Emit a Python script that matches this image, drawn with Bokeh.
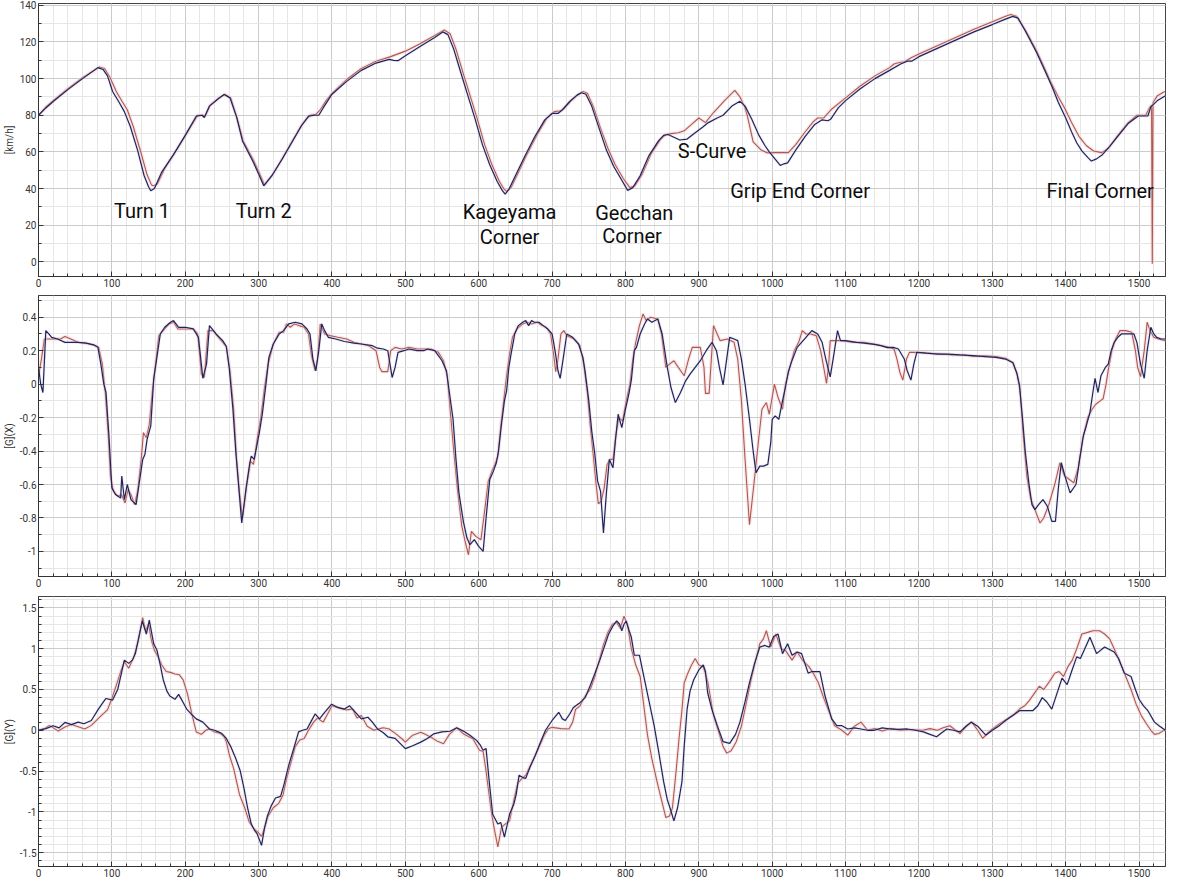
from bokeh.plotting import figure
from bokeh.layouts import column
from bokeh.models import Range1d, SingleIntervalTicker, CustomJSTickFormatter
from bokeh.core.properties import value
from bokeh.embed import file_html
from bokeh.resources import INLINE

# ---------------- data: distance [m] vs value ----------------
SPEED_NAVY = [(0,80),(10,84),(20,87.5),(40,94),(60,100),(81,106),(88,105),(94,101.5),(101,93),(110,87),(117,82),
 (125,74),(135,61),(144,47),(150,41),(153,38.8),(158,40),(168,49),(184,58.5),(200,69),(215,79.5),(223,80),(226,78.8),
 (233,85),(245,89),(253,91.3),(261,89.5),(270,79),(278,66),(292,55),(300,48),(307,41.5),(318,47),(332,56),(345,65),
 (358,74),(368,79.5),(376,80),(382,80),(388,84),(400,91.5),(420,98.5),(440,104.5),(460,108.5),(478,110.5),(484,110),
 (490,109.8),(500,112.5),(520,117.5),(540,122.5),(551,125.5),(558,124),(566,116),(575,104),(585,91),(595,78),(605,64),
 (615,53),(625,44),(632,39),(636,37),(641,39.5),(650,47),(662,57),(676,68),(690,77.5),(700,81),(708,81),(714,83),
 (724,87.5),(734,91),(740,92.3),(746,91.5),(754,85),(764,73),(774,61),(784,52),(795,44.5),(803,39),(810,40.5),(820,47),
 (832,58),(845,66),(852,69),(858,69.5),(866,68),(874,66.5),(884,67),(895,70.5),(905,73.5),(913,76),(925,78.5),(933,80),
 (945,85),(956,87.6),(963,85),(972,78),(982,69),(990,63.5),(996,60),(1004,56),(1011,52.6),(1016,53.5),(1021,54),
 (1032,61),(1045,68.5),(1058,75),(1068,77.5),(1076,77),(1080,78),(1090,84),(1100,88),(1120,94.5),(1140,100),
 (1160,104.5),(1175,108),(1184,109.5),(1190,109.5),(1200,112),(1225,116.5),(1250,121),(1275,125.5),(1300,129.5),
 (1318,132.5),(1328,134),(1335,133),(1345,126),(1360,114.5),(1372,104),(1381,96),(1390,87),(1400,78.5),(1408,71),
 (1415,65),(1422,60.6),(1430,57),(1435,55),(1442,56.2),(1450,58.5),(1460,63),(1472,69),(1485,75.5),(1499,79.6),
 (1512,79.6),(1516,84.6),(1525,88),(1536,90.7)]

SPEED_RED = [(0,80),(10,84.5),(20,88),(40,94.5),(60,100.5),(83,106.3),(90,105.5),(97,101),(106,93),(114,87.5),(121,83),
 (129,74),(139,60.5),(148,47.5),(154,42),(157,41.5),(162,42.5),(172,51),(188,61),(204,71.5),(217,80),(224,80),(227,79.5),
 (234,85.5),(246,89.5),(254,91.5),(262,89.5),(271,78),(279,66),(293,55.5),(301,48.5),(308,42),(319,47.5),(333,57),
 (346,66),(359,75),(370,80),(378,80.5),(384,83),(392,88),(400,92),(420,99.5),(440,105.5),(460,109.5),(480,112),
 (500,115),(520,119),(540,123.5),(553,126.5),(561,124.5),(569,116),(578,104),(588,91),(598,78),(608,64),(618,53),
 (628,44),(634,40),(638,38.5),(644,40.5),(653,48),(665,58),(679,69),(693,78.5),(703,82),(712,82.5),(716,83.5),
 (726,88),(736,91.5),(742,93),(748,92),(756,85),(766,73),(776,62),(786,53),(797,45.5),(806,40.5),(813,41.5),(823,48),
 (835,59),(848,67),(855,69.5),(862,70),(872,70.5),(880,71.5),(890,75),(900,78.5),(909,76),(920,81.5),(935,88),
 (949,93.6),(956,90),(962,85),(966,80),(974,65.5),(985,61),(993,59.5),(1004,59.6),(1022,59.6),(1032,64),(1045,71),
 (1056,76.5),(1062,78.5),(1070,78.5),(1080,83),(1100,89.5),(1120,96),(1140,101.5),(1160,106),(1166,108),(1172,108.7),
 (1180,109.2),(1190,111.5),(1200,113.5),(1225,118),(1250,122.5),(1275,127),(1300,131),(1318,134),(1325,135),(1333,134),
 (1345,126.5),(1360,115.5),(1372,105),(1381,97),(1390,90),(1399,83.6),(1408,76),(1418,68.5),(1428,63.5),(1438,60.5),
 (1449,59.6),(1458,62),(1470,68.5),(1484,75.5),(1497,80),(1509,80),(1514,84),(1517,85.5),(1518,-1),(1519,87),
 (1525,90.7),(1535,93)]

GX_NAVY = [(0,0.1),(3,0.0),(6,-0.05),(10,0.32),(14,0.3),(18,0.28),(26,0.27),(36,0.25),(45,0.25),(54,0.25),(65,0.245),
 (75,0.235),(81,0.22),(85,0.12),(89,0.0),(92,-0.05),(96,-0.31),(100,-0.62),(105,-0.66),(112,-0.68),(113.5,-0.55),
 (117,-0.69),(121,-0.6),(126,-0.69),(133,-0.72),(137,-0.6),(142,-0.45),(145,-0.42),(148,-0.33),(153,-0.25),(157,0.03),
 (161,0.15),(166,0.3),(172,0.34),(180,0.37),(184,0.38),(191,0.34),(200,0.34),(211,0.33),(218,0.28),(224,0.035),
 (229,0.12),(233,0.35),(242,0.3),(251,0.26),(256,0.225),(260,0.095),(265,-0.15),(269,-0.41),(273,-0.62),(277,-0.83),
 (283,-0.62),(288,-0.47),(290,-0.43),(294,-0.45),(301,-0.29),(305,-0.18),(310,0.0),(314,0.16),(320,0.24),(328,0.3),
 (334,0.32),(341,0.36),(350,0.37),(359,0.36),(366,0.33),(370,0.3),(374,0.15),(378,0.08),(382,0.2),(386,0.36),
 (390,0.32),(395,0.28),(405,0.27),(417,0.255),(430,0.245),(440,0.24),(455,0.23),(462,0.215),(470,0.21),(476,0.2),
 (482,0.04),(486,0.1),(490,0.19),(498,0.2),(505,0.21),(516,0.2),(525,0.2),(530,0.21),(540,0.2),(545,0.17),(550,0.14),
 (556,0.08),(560,-0.05),(565,-0.21),(569,-0.45),(573,-0.65),(579,-0.82),(584,-0.92),(588,-0.96),(594,-0.93),
 (600,-0.97),(606,-1.0),(610,-0.8),(615,-0.57),(620,-0.52),(624,-0.47),(627,-0.4),(631,-0.24),(635,-0.1),(638,-0.04),
 (641,0.1),(644,0.18),(647,0.25),(649,0.3),(654,0.35),(660,0.37),(664,0.38),(668,0.35),(672,0.38),(676,0.37),
 (682,0.37),(688,0.35),(694,0.33),(700,0.3),(704,0.2),(708,0.08),(711,0.035),(715,0.15),(720,0.3),(728,0.28),
 (736,0.24),(742,0.16),(745,0.075),(750,-0.1),(754,-0.28),(758,-0.41),(762,-0.58),(766,-0.64),(770,-0.89),(774,-0.65),
 (778,-0.45),(783,-0.5),(786,-0.35),(790,-0.18),(795,-0.26),(800,-0.15),(805,-0.05),(808,0.025),(812,0.2),(815,0.22),
 (820,0.3),(826,0.36),(830,0.39),(836,0.37),(844,0.39),(850,0.3),(857,0.1),(862,-0.02),(868,-0.11),(875,-0.05),
 (882,0.02),(888,0.06),(895,0.1),(902,0.14),(910,0.2),(918,0.25),(924,0.2),(928,0.1),(933,-0.005),(937,0.12),
 (942,0.28),(948,0.27),(953,0.26),(958,0.15),(963,0.0),(969,-0.21),(974,-0.4),(978,-0.53),(983,-0.49),(988,-0.49),
 (994,-0.48),(998,-0.35),(1000,-0.21),(1004,-0.19),(1009,-0.21),(1014,-0.1),(1018,-0.02),(1022,0.075),(1026,0.13),
 (1034,0.22),(1040,0.25),(1046,0.28),(1050,0.3),(1054,0.32),(1062,0.3),(1068,0.25),(1073,0.15),(1079,0.044),
 (1083,0.15),(1089,0.32),(1093,0.26),(1100,0.26),(1115,0.25),(1125,0.245),(1139,0.238),(1148,0.23),(1157,0.218),
 (1165,0.22),(1172,0.21),(1180,0.15),(1184,0.08),(1189,0.024),(1193,0.12),(1197,0.19),(1210,0.185),(1225,0.18),
 (1240,0.18),(1255,0.175),(1274,0.17),(1290,0.165),(1305,0.16),(1318,0.15),(1328,0.128),(1333,0.07),(1337,-0.006),
 (1341,-0.2),(1345,-0.41),(1350,-0.6),(1354,-0.72),(1358,-0.75),(1363,-0.72),(1369,-0.69),(1375,-0.73),(1381,-0.82),
 (1386,-0.82),(1390,-0.62),(1394,-0.47),(1399,-0.55),(1406,-0.65),(1414,-0.6),(1419,-0.45),(1424,-0.31),(1428,-0.25),
 (1433,-0.17),(1437,-0.05),(1440,0.035),(1444,-0.05),(1448,0.05),(1454,0.1),(1458,0.12),(1462,0.2),(1466,0.25),
 (1471,0.28),(1476,0.3),(1485,0.3),(1493,0.3),(1497,0.25),(1502,0.12),(1507,0.035),(1511,0.2),(1516,0.34),(1520,0.3),
 (1524,0.28),(1530,0.27),(1536,0.27)]

GX_RED = [(0,0.05),(4,0.15),(8,0.27),(14,0.27),(22,0.27),(30,0.27),(36,0.285),(44,0.27),(54,0.25),(65,0.245),(75,0.235),
 (82,0.22),(87,0.12),(91,-0.05),(95,-0.3),(98,-0.55),(102,-0.64),(108,-0.67),(113,-0.66),(118,-0.71),(122,-0.63),
 (126,-0.66),(131,-0.72),(135,-0.64),(140,-0.45),(143,-0.29),(147,-0.32),(151,-0.24),(155,-0.05),(159,0.1),(164,0.29),
 (172,0.33),(178,0.36),(184,0.37),(190,0.33),(200,0.33),(211,0.33),(217,0.3),(222,0.06),(226,0.04),(231,0.32),
 (238,0.32),(247,0.27),(256,0.225),(261,0.08),(266,-0.15),(270,-0.45),(274,-0.65),(278,-0.8),(284,-0.6),(289,-0.46),
 (293,-0.48),(299,-0.3),(303,-0.2),(308,-0.02),(313,0.12),(320,0.24),(328,0.31),(334,0.31),(338,0.36),(343,0.34),
 (349,0.36),(355,0.35),(362,0.34),(368,0.3),(372,0.17),(377,0.08),(380,0.14),(384,0.36),(390,0.3),(397,0.29),
 (408,0.28),(420,0.27),(430,0.25),(440,0.24),(450,0.23),(460,0.2),(465,0.1),(468,0.075),(476,0.075),(480,0.2),
 (486,0.22),(495,0.21),(505,0.22),(516,0.21),(525,0.21),(535,0.21),(545,0.19),(552,0.14),(557,0.05),(561,-0.15),
 (566,-0.4),(571,-0.63),(577,-0.85),(582,-0.95),(586,-1.02),(590,-0.88),(596,-0.91),(603,-0.93),(608,-0.76),
 (613,-0.58),(618,-0.52),(622,-0.48),(626,-0.43),(630,-0.25),(634,-0.1),(638,0.05),(642,0.18),(646,0.28),(652,0.33),
 (660,0.36),(666,0.37),(672,0.36),(680,0.37),(686,0.35),(692,0.34),(698,0.3),(702,0.18),(705,0.075),(708,0.15),
 (712,0.3),(716,0.32),(720,0.29),(730,0.27),(738,0.23),(743,0.12),(748,-0.05),(752,-0.25),(756,-0.42),(760,-0.6),
 (763,-0.715),(767,-0.7),(771,-0.62),(775,-0.48),(779,-0.45),(783,-0.45),(787,-0.3),(791,-0.2),(796,-0.22),(801,-0.1),
 (806,0.0),(810,0.15),(814,0.25),(819,0.35),(824,0.42),(828,0.38),(834,0.4),(844,0.39),(849,0.3),(855,0.1),(860,0.12),
 (866,0.14),(872,0.1),(880,0.05),(886,0.15),(891,0.22),(902,0.22),(907,0.1),(909,-0.055),(914,-0.055),(920,0.35),
 (925,0.3),(929,0.26),(939,0.27),(948,0.25),(953,0.15),(958,-0.1),(963,-0.45),(969,-0.84),(975,-0.6),(981,-0.35),
 (986,-0.15),(992,-0.11),(996,-0.18),(1003,0.0),(1008,-0.08),(1014,-0.15),(1018,0.0),(1024,0.1),(1030,0.2),(1036,0.25),
 (1041,0.32),(1046,0.3),(1052,0.3),(1060,0.29),(1066,0.2),(1071,0.08),(1074,0.004),(1077,0.12),(1079,0.26),(1084,0.26),
 (1095,0.26),(1110,0.25),(1125,0.25),(1139,0.24),(1150,0.23),(1160,0.22),(1166,0.21),(1170,0.15),(1174,0.07),
 (1178,0.024),(1183,0.15),(1187,0.19),(1200,0.19),(1215,0.185),(1230,0.18),(1245,0.175),(1260,0.175),(1275,0.165),
 (1290,0.17),(1305,0.165),(1318,0.155),(1328,0.13),(1334,0.06),(1338,-0.05),(1342,-0.3),(1347,-0.55),(1352,-0.68),
 (1358,-0.75),(1365,-0.83),(1370,-0.8),(1377,-0.72),(1385,-0.6),(1392,-0.47),(1398,-0.545),(1405,-0.57),(1411,-0.59),
 (1417,-0.5),(1423,-0.33),(1430,-0.2),(1436,-0.15),(1441,-0.12),(1447,-0.1),(1451,-0.087),(1455,0.0),(1458,0.085),
 (1463,0.2),(1468,0.27),(1474,0.32),(1482,0.32),(1490,0.31),(1495,0.2),(1498,0.1),(1502,0.045),(1507,0.2),
 (1511,0.37),(1515,0.32),(1520,0.28),(1526,0.27),(1536,0.26)]

GY_NAVY = [(0,0),(10,0.02),(20,0.056),(28,0.03),(36,0.096),(45,0.07),(54,0.1),(62,0.08),(72,0.12),(81,0.25),(87,0.33),
 (92,0.39),(101,0.37),(108,0.5),(113,0.7),(117,0.86),(123,0.82),(128,0.86),(132,0.94),(137,1.15),(141.5,1.34),
 (147,1.18),(151,1.35),(157,1.06),(161.5,0.98),(166,0.8),(170,0.62),(175,0.48),(179,0.42),(186,0.38),(191,0.44),
 (196,0.36),(202,0.26),(208,0.2),(215,0.14),(224,0.1),(233,0.016),(240,0.0),(245,-0.02),(250,-0.04),(256,-0.1),
 (262,-0.2),(269,-0.35),(275,-0.5),(280,-0.71),(285,-0.95),(290,-1.15),(294,-1.22),(298,-1.27),(304,-1.41),(308,-1.2),
 (312,-1.05),(317,-0.93),(323,-0.83),(330,-0.81),(335,-0.65),(341,-0.43),(348,-0.22),(354.5,-0.02),(360,0.0),
 (366,0.016),(371,0.1),(377,0.2),(383,0.14),(390,0.22),(399.5,0.32),(408,0.28),(417,0.26),(424,0.3),(432,0.22),
 (440,0.14),(449,0.16),(455,0.1),(462,0.016),(470,-0.03),(476,-0.08),(486,-0.1),(500,-0.225),(510,-0.19),(521,-0.145),
 (530,-0.1),(538.5,-0.045),(550,-0.02),(561,-0.012),(570,0.03),(579,-0.01),(588,-0.06),(597,-0.124),(602,-0.18),
 (606,-0.245),(610,-0.225),(614,-0.6),(619,-1.03),(626,-1.15),(630,-1.13),(635,-1.31),(642,-1.03),(648,-0.9),
 (651,-0.79),(655,-0.55),(660,-0.58),(664,-0.59),(670,-0.45),(677,-0.31),(684,-0.15),(691,0.0),(700,0.12),(709,0.22),
 (714,0.14),(718,0.12),(724,0.2),(729,0.28),(737,0.33),(745,0.4),(752,0.55),(758,0.69),(765,0.86),(771,1.02),
 (777,1.18),(783,1.28),(788,1.34),(792,1.3),(795,1.22),(798,1.3),(801,1.34),(805,1.22),(808,1.14),(812,0.92),
 (819,0.92),(825,0.66),(832,0.36),(839,0.06),(845,-0.25),(852,-0.63),(857,-0.85),(862,-0.99),(866,-1.11),(871,-0.95),
 (877,-0.63),(880,-0.2),(884,0.26),(888,0.48),(893,0.62),(900,0.74),(906,0.8),(909,0.72),(912,0.46),(918,0.25),
 (925,0.06),(933,-0.14),(942,-0.16),(950,-0.05),(956,0.1),(963,0.35),(969,0.58),(976,0.82),(983,1.02),(990,1.04),
 (996,1.02),(1002,1.15),(1008,1.18),(1014,0.94),(1021,1.06),(1027,0.92),(1034,0.96),(1040,0.94),(1049,0.7),(1054,0.72),
 (1065,0.72),(1072,0.42),(1081,0.14),(1088,0.056),(1095,0.056),(1103,0.016),(1112,0.03),(1121,0.016),(1130,0.0),
 (1139,0.0),(1150,0.03),(1161,0.016),(1172,0.01),(1184,0.016),(1195,0.0),(1206,-0.02),(1215,-0.05),(1224,-0.08),
 (1231,-0.03),(1238,0.016),(1247,0.0),(1256,-0.02),(1264,0.05),(1271,0.1),(1280,0.05),(1291,-0.06),(1300,0.0),
 (1310,0.06),(1318,0.12),(1328,0.18),(1337,0.24),(1355,0.24),(1362,0.3),(1368,0.4),(1374,0.35),(1381,0.26),(1388,0.45),
 (1395,0.64),(1402,0.56),(1408,0.72),(1415,0.9),(1420,0.88),(1426,1.0),(1433,1.14),(1442,0.94),(1453,1.02),(1466,0.96),
 (1472,0.88),(1480,0.7),(1489,0.66),(1495,0.5),(1500,0.38),(1506,0.3),(1512,0.24),(1521,0.1),(1528,0.05),(1536,0.0)]

GY_RED = [(0,0),(8,0.02),(15,0.06),(27,-0.01),(36,0.04),(45,0.07),(55,0.04),(63,0.016),(72,0.06),(81,0.14),(88,0.2),
 (94,0.25),(100,0.39),(106,0.55),(112,0.72),(117,0.84),(123,0.76),(130,0.9),(136,1.1),(142,1.38),(146,1.22),(150,1.3),
 (154,1.1),(158,0.98),(163,0.9),(168,0.8),(174,0.72),(180,0.71),(186,0.69),(192,0.68),(197,0.62),(203,0.45),(209,0.2),
 (215,-0.02),(222,-0.05),(228,0.0),(233,0.016),(240,-0.02),(248,-0.04),(253,-0.08),(256,-0.14),(260,-0.3),(266,-0.47),
 (274,-0.79),(281,-0.95),(287,-1.12),(293,-1.2),(299,-1.25),(304,-1.3),(308,-1.2),(313,-1.05),(320,-0.95),(327,-0.9),
 (333,-0.8),(338,-0.6),(344,-0.4),(350,-0.2),(356,-0.12),(362,-0.1),(368,0.0),(375,0.1),(380,0.15),(388,0.1),
 (394,0.2),(400,0.3),(410,0.27),(420,0.25),(428,0.26),(434,0.15),(440,0.18),(448,0.05),(457,0.0),(465,0.02),
 (470,0.03),(478,0.016),(488,-0.05),(496,-0.11),(500,-0.145),(510,-0.06),(521,-0.025),(527,-0.05),(535,-0.085),
 (543,-0.13),(552,-0.165),(560,-0.05),(570,0.03),(580,-0.05),(592,-0.105),(601,-0.245),(606,-0.26),(610,-0.5),
 (617,-0.99),(621,-1.2),(626,-1.43),(631,-1.19),(636,-1.15),(642,-1.11),(648,-0.85),(653,-0.65),(658,-0.6),
 (664,-0.55),(671,-0.42),(680,-0.25),(690,-0.05),(695,0.02),(700,0.036),(712,0.02),(723,0.016),(728,0.1),(732,0.256),
 (738,0.3),(745,0.42),(752,0.5),(758,0.65),(764,0.85),(770,1.05),(776,1.2),(782,1.3),(788,1.32),(793,1.25),(798,1.4),
 (803,1.28),(808,1.0),(814,0.8),(820,0.66),(825,0.3),(830,-0.06),(836,-0.35),(843,-0.63),(849,-0.85),(855,-1.07),
 (860,-1.05),(864,-0.95),(869,-0.5),(873,-0.1),(877,0.25),(880,0.58),(885,0.7),(890,0.8),(895,0.88),(900,0.8),
 (906,0.78),(912,0.6),(920,0.18),(928,-0.05),(933,-0.2),(938,-0.28),(944,-0.25),(951,-0.14),(958,0.05),(965,0.35),
 (972,0.65),(978,0.88),(983,1.06),(988,1.12),(992,1.22),(998,1.02),(1005,1.18),(1012,1.0),(1018,0.98),(1027,0.86),
 (1034,0.96),(1042,0.85),(1050,0.78),(1056,0.7),(1063,0.58),(1070,0.4),(1076,0.26),(1081,0.15),(1085,0.056),
 (1095,0.0),(1103,-0.06),(1112,0.05),(1121,0.1),(1130,0.0),(1140,0.02),(1150,-0.01),(1160,0.02),(1175,0.0),(1190,0.01),
 (1205,0.0),(1215,0.02),(1225,0.0),(1233,0.03),(1242,0.056),(1250,0.0),(1256,-0.04),(1265,0.05),(1272,0.1),(1280,0.0),
 (1287,-0.1),(1294,-0.03),(1300,0.016),(1310,0.08),(1320,0.14),(1330,0.2),(1337,0.26),(1344,0.3),(1350,0.36),
 (1357,0.45),(1364,0.54),(1370,0.5),(1378,0.6),(1385,0.7),(1391,0.72),(1397,0.66),(1403,0.78),(1409,0.86),(1415,1.0),
 (1422,1.18),(1430,1.2),(1437,1.22),(1446,1.22),(1453,1.18),(1460,1.12),(1466,1.0),(1471,0.9),(1480,0.7),(1489,0.5),
 (1496,0.32),(1503,0.18),(1510,0.08),(1516,0.0),(1521,-0.05),(1527,-0.04),(1532,-0.01),(1536,0.0)]

CORNER_LABELS = ["Turn 1", "Turn 2", "Kageyama", "Corner", "Gecchan", "Corner", "S-Curve", "Grip End Corner", "Final Corner"]
CORNER_X = [141, 307, 642, 642, 812, 809, 918, 1038, 1447]
CORNER_Y = [28, 28, 27, 13.8, 26.8, 14.2, 60.7, 38.8, 38.8]

Y_LABELS = ["[km/h]", "[G](X)", "[G](Y)"]

NAVY = "#22235a"
RED = "#b0584f"
HALO = "#f1cfd6"

fmt = CustomJSTickFormatter(code="return String(Number(tick.toFixed(2)));")


def make_panel(series_a, series_b, yr, yint, yminor, ylabel, height, top):
    p = figure(width=1170, height=height, x_range=Range1d(0, 1536), y_range=Range1d(*yr),
               output_backend="svg", toolbar_location=None,
               min_border_left=34, min_border_right=5, min_border_top=top, min_border_bottom=14)
    p.background_fill_color = "white"
    p.outline_line_color = "#444444"
    p.outline_line_width = 1
    p.xaxis.ticker = SingleIntervalTicker(interval=100, num_minor_ticks=5)
    p.yaxis.ticker = SingleIntervalTicker(interval=yint, num_minor_ticks=yminor)
    p.yaxis.formatter = fmt
    for ax in (p.xaxis, p.yaxis):
        ax.major_tick_in = 5
        ax.major_tick_out = 0
        ax.minor_tick_in = 3
        ax.minor_tick_out = 0
        ax.axis_line_color = "#333333"
        ax.major_tick_line_color = "#333333"
        ax.minor_tick_line_color = "#333333"
        ax.major_label_text_font = "Roboto"
        ax.major_label_text_font_size = "10px"
        ax.major_label_text_color = "#333333"
        ax.major_label_standoff = 2
        ax.axis_label_standoff = 0
    p.yaxis.axis_label = ylabel
    p.yaxis.axis_label_text_font = "Roboto"
    p.yaxis.axis_label_text_font_size = "10px"
    p.yaxis.axis_label_text_font_style = "normal"
    p.yaxis.axis_label_text_color = "#333333"
    p.yaxis.axis_label_standoff = 2
    for g in (p.xgrid, p.ygrid):
        g.grid_line_color = "#cbcbcb"
        g.grid_line_width = 1
        g.minor_grid_line_color = "#e6e6e6"
        g.minor_grid_line_width = 1
    bx = [d for d, _ in series_b]
    by = [v for _, v in series_b]
    ax_ = [d for d, _ in series_a]
    ay = [v for _, v in series_a]
    p.line(bx, by, line_color=HALO, line_width=3.5, line_alpha=0.5)
    p.line(bx, by, line_color=RED, line_width=1.1)
    p.line(ax_, ay, line_color="#cfcde3", line_width=3, line_alpha=0.3)
    p.line(ax_, ay, line_color=NAVY, line_width=1.2)
    return p


p1 = make_panel(SPEED_NAVY, SPEED_RED, (-8, 141), 20, 2, Y_LABELS[0], 290, 3)
p1.text(x=CORNER_X, y=CORNER_Y, text=CORNER_LABELS, text_font=value("Roboto"), text_font_size="20px",
        text_align="center", text_baseline="middle", text_color="#0d0d0d")
p2 = make_panel(GX_NAVY, GX_RED, (-1.15, 0.53), 0.2, 2, Y_LABELS[1], 300, 5)
p3 = make_panel(GY_NAVY, GY_RED, (-1.67, 1.64), 0.5, 5, Y_LABELS[2], 290, 6)

layout = column(p1, p2, p3, spacing=0)
open("out.html", "w").write(file_html(layout, INLINE))
